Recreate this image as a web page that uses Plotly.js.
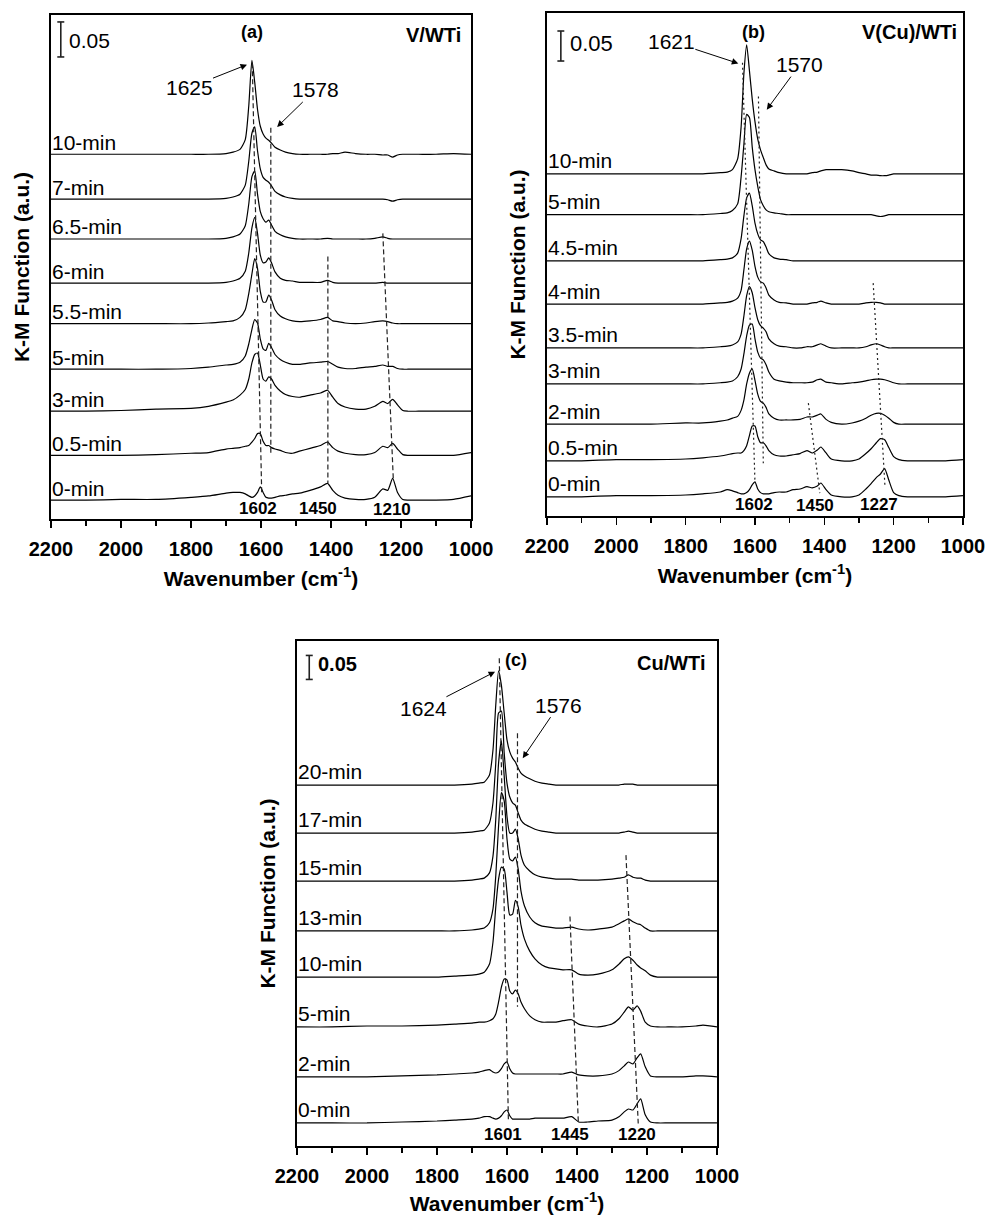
<!DOCTYPE html>
<html><head><meta charset="utf-8">
<script src="https://cdn.plot.ly/plotly-3.0.1.min.js"></script>
<style>html,body{margin:0;padding:0;background:#fff;} #chart{width:990px;height:1215px;}</style>
</head><body><div id="chart"></div>
<script>
// ================= DATA (K-M function, a.u., relative to each spectrum's own baseline) =================
// Panel (a) V/WTi
const wnA = [2200,2100,2000,1900,1800,1750,1700,1680,1660,1645,1635,1626,1618,1610,1602,1594,1586,1578,1570,1560,1545,1530,1510,1490,1460,1430,1410,1395,1380,1360,1330,1300,1275,1252,1238,1224,1210,1195,1180,1150,1100,1050,1000];
const labelsA = ['0-min','0.5-min','3-min','5-min','5.5-min','6-min','6.5-min','7-min','10-min'];
const a0   = [0,0,.001,.001,.004,.006,.010,.011,.011,.009,.006,.004,.006,.011,.019,.011,.004,.003,.003,.004,.006,.007,.009,.010,.014,.019,.024,.014,.007,.003,.001,.001,.004,.016,.014,.031,.011,.001,0,0,0,.001,.006];
const a0_5 = [0,0,0,.001,.003,.004,.009,.010,.011,.013,.014,.019,.024,.031,.031,.020,.014,.014,.011,.009,.007,.004,.003,.006,.010,.014,.019,.011,.006,.003,.001,.001,.004,.013,.011,.017,.009,.001,0,0,0,0,.004];
const a3   = [0,0,.001,.003,.004,.007,.013,.016,.023,.031,.046,.069,.081,.083,.066,.046,.043,.049,.046,.037,.029,.024,.021,.020,.023,.026,.030,.020,.011,.006,.003,.003,.007,.014,.011,.017,.009,.001,0,0,0,0,0];
const a5   = [0,0,0,0,.001,.003,.006,.007,.010,.019,.036,.057,.071,.066,.043,.029,.027,.037,.031,.021,.014,.010,.007,.007,.009,.010,.011,.007,.003,.001,.001,.003,.004,.006,.004,.004,.001,0,0,0,0,0,0];
const a5_5 = [0,0,0,0,0,.001,.003,.004,.009,.020,.043,.071,.093,.079,.046,.031,.031,.041,.034,.020,.011,.007,.004,.003,.004,.006,.009,.004,.003,.001,0,.001,.003,.004,.003,.001,0,0,0,0,0,0,0];
const a6   = [0,0,0,0,0,0,.001,.003,.007,.017,.043,.079,.094,.071,.040,.029,.030,.036,.029,.016,.007,.004,.003,.001,.001,.001,.004,.001,0,0,0,0,0,.001,0,0,0,0,0,0,0,0,0];
const a6_5 = [0,0,0,0,0,0,.001,.003,.007,.019,.050,.089,.097,.064,.039,.029,.024,.027,.020,.011,.006,.003,.001,0,0,0,.001,0,0,0,0,0,.001,.003,.001,0,0,0,0,0,0,0,0];
const a7   = [0,0,0,0,0,0,.001,.003,.007,.020,.054,.094,.103,.069,.043,.031,.027,.024,.019,.011,.006,.003,.001,0,0,0,0,0,0,0,0,0,0,0,-.001,-.003,-.001,0,0,0,0,0,0];
const a10  = [0,0,0,0,0,0,.001,.003,.007,.021,.069,.134,.103,.064,.040,.029,.023,.020,.016,.010,.006,.003,.001,0,0,0,0,.001,.001,.003,.001,0,0,-.001,-.001,-.004,-.001,0,0,0,0,.001,0];

// Panel (b) V(Cu)/WTi
const wnB = [2200,2100,2000,1900,1800,1750,1700,1680,1665,1650,1640,1632,1624,1616,1608,1600,1592,1584,1576,1568,1560,1545,1530,1510,1490,1470,1450,1435,1420,1410,1395,1380,1350,1320,1300,1280,1265,1250,1238,1226,1214,1200,1185,1160,1100,1050,1000];
const labelsB = ['0-min','0.5-min','2-min','3-min','3.5-min','4-min','4.5-min','5-min','10-min'];
const b0   = [0,0,.002,.002,.003,.005,.008,.012,.010,.007,.005,.005,.007,.012,.020,.025,.013,.007,.005,.005,.005,.007,.008,.008,.012,.013,.017,.015,.018,.023,.012,.003,0,0,.003,.013,.022,.032,.038,.047,.028,.007,.002,0,0,0,.002];
const b0_5 = [0,0,.002,.002,.003,.005,.008,.010,.012,.013,.013,.017,.025,.042,.058,.058,.040,.030,.030,.025,.017,.010,.008,.008,.010,.012,.017,.013,.018,.023,.013,.003,0,0,.003,.012,.020,.030,.037,.035,.022,.007,.002,0,0,0,.002];
const b2   = [0,0,0,0,.002,.002,.005,.007,.010,.013,.023,.040,.067,.085,.092,.073,.050,.038,.035,.028,.017,.010,.007,.007,.007,.008,.012,.012,.015,.017,.008,.003,0,.002,.005,.010,.015,.018,.018,.015,.010,.003,0,0,0,0,0];
const b3   = [0,0,0,0,0,0,.002,.003,.005,.012,.025,.050,.080,.098,.100,.075,.053,.043,.040,.032,.020,.008,.005,.003,.002,.002,.002,.003,.007,.008,.003,.002,0,.002,.003,.005,.007,.008,.008,.007,.005,.002,0,0,0,0,0];
const b3_5 = [0,0,0,0,0,0,.002,.003,.005,.010,.023,.053,.087,.102,.092,.067,.047,.037,.033,.027,.015,.007,.003,.002,0,0,.002,.002,.005,.007,.003,0,0,0,0,.002,.005,.007,.005,.002,0,0,0,0,0,0,0];
const b4   = [0,0,0,0,0,0,.002,.003,.005,.010,.023,.057,.092,.105,.090,.063,.045,.037,.035,.027,.015,.007,.003,.002,0,0,0,.002,.003,.005,.002,0,0,0,0,.002,.003,.003,.002,0,0,0,0,0,0,0,0];
const b4_5 = [0,0,0,0,0,0,.002,.003,.005,.013,.037,.075,.105,.113,.092,.063,.045,.035,.032,.023,.012,.005,.003,.002,0,0,0,0,0,0,0,0,0,0,0,0,0,0,0,0,0,0,0,0,0,0,0];
const b5   = [0,0,0,0,0,0,.002,.003,.007,.018,.063,.117,.167,.162,.113,.075,.047,.025,.015,.008,.005,.003,.002,0,0,0,0,0,0,0,0,0,0,0,0,0,0,-.002,-.003,-.002,0,0,0,0,0,0,0];
const b10  = [0,0,0,0,0,0,.002,.003,.007,.025,.078,.167,.215,.172,.125,.087,.058,.040,.027,.015,.008,.005,.002,0,0,0,0,.002,.003,.005,.007,.007,.007,.005,.002,0,-.002,-.002,-.003,-.003,-.002,0,0,0,0,0,0];

// Panel (c) Cu/WTi
const wnC = [2200,2100,2000,1900,1800,1750,1700,1680,1665,1650,1640,1632,1624,1616,1608,1600,1592,1584,1576,1568,1560,1550,1535,1520,1500,1480,1460,1440,1415,1395,1370,1340,1300,1280,1265,1253,1240,1228,1218,1205,1190,1170,1140,1100,1060,1040,1000];
const labelsC = ['0-min','2-min','5-min','10-min','13-min','15-min','17-min','20-min'];
const c0  = [0,0,0,.002,.004,.006,.008,.010,.013,.013,.010,.008,.010,.015,.023,.027,.015,.008,.008,.008,.008,.008,.008,.010,.010,.010,.010,.010,.013,.002,.002,.004,.006,.013,.023,.029,.027,.040,.050,.017,.002,0,0,0,0,0,0];
const c2  = [0,0,0,.002,.004,.006,.008,.010,.013,.015,.010,.008,.010,.017,.027,.031,.017,.008,.006,.006,.006,.006,.006,.006,.006,.006,.006,.006,.010,.004,.002,.002,.006,.013,.023,.031,.027,.040,.048,.021,.002,0,0,0,.002,.002,0];
const c5  = [0,0,.002,.002,.004,.006,.008,.010,.010,.013,.017,.027,.052,.083,.100,.098,.075,.069,.077,.069,.052,.038,.023,.015,.010,.010,.010,.013,.015,.006,.002,0,.006,.017,.031,.042,.035,.044,.033,.010,.002,0,0,0,.002,.004,0];
const c10 = [0,0,0,0,0,.002,.004,.006,.010,.027,.073,.146,.204,.229,.225,.177,.129,.131,.160,.146,.108,.079,.054,.038,.025,.019,.017,.015,.015,.006,.004,.006,.015,.027,.038,.042,.035,.025,.019,.013,.004,0,0,0,0,0,0];
const c13 = [0,0,0,0,0,0,.002,.004,.006,.017,.046,.115,.219,.288,.271,.192,.150,.146,.154,.129,.083,.052,.029,.017,.010,.008,.006,.006,.008,.004,.002,.004,.008,.015,.021,.025,.019,.015,.013,.006,0,0,0,0,0,0,0];
const c15 = [0,0,0,0,0,0,.002,.004,.006,.017,.052,.129,.246,.292,.219,.135,.100,.100,.108,.088,.054,.033,.021,.013,.008,.006,.004,.004,.004,.002,.002,.002,.004,.006,.008,.013,.008,.006,.006,.002,0,0,0,0,0,0,0];
const c17 = [0,0,0,0,0,0,.002,.004,.006,.021,.063,.146,.250,.254,.167,.104,.075,.063,.058,.042,.027,.019,.013,.008,.004,.002,0,0,0,0,0,0,0,0,.002,.004,.002,0,0,0,0,0,0,0,0,0,0];
const c20 = [0,0,0,0,0,0,.002,.004,.006,.021,.073,.167,.238,.208,.150,.094,.069,.056,.048,.035,.025,.019,.013,.008,.004,.002,0,0,0,0,0,0,0,0,.002,.002,.002,0,0,0,0,0,0,0,0,0,0];

const xTicks = [2200,2000,1800,1600,1400,1200,1000];
const xMinor = [2100,1900,1700,1500,1300,1100];

// ================= DISPLAY (stacking offsets, layout) =================
const F = 'Liberation Sans, Arial, sans-serif';
const panels = [
  {wn: wnA, labels: labelsA, series: [a0,a0_5,a3,a5,a5_5,a6,a6_5,a7,a10],
   offsets: [0.027,0.091,0.154,0.214,0.279,0.337,0.400,0.457,0.521], xa:'x', ya:'y', lshift:12},
  {wn: wnB, labels: labelsB, series: [b0,b0_5,b2,b3,b3_5,b4,b4_5,b5,b10],
   offsets: [0.032,0.092,0.153,0.220,0.280,0.353,0.425,0.502,0.570], xa:'x2', ya:'y2', lshift:13},
  {wn: wnC, labels: labelsC, series: [c0,c2,c5,c10,c13,c15,c17,c20],
   offsets: [0.048,0.144,0.248,0.352,0.448,0.552,0.652,0.752], xa:'x3', ya:'y3', lshift:13.5}
];

const traces = [];
const annotations = [];
const shapes = [];
panels.forEach(p => {
  p.series.forEach((s, i) => {
    traces.push({x: p.wn, y: s.map(v => v + p.offsets[i]), xaxis: p.xa, yaxis: p.ya,
      type:'scatter', mode:'lines', line:{color:'#000', width:1.2, shape:'spline', smoothing:0.6},
      hoverinfo:'skip', showlegend:false});
    annotations.push({xref:p.xa, yref:p.ya, x:2200, y:p.offsets[i], yshift:p.lshift, xanchor:'left', yanchor:'middle',
      text:p.labels[i], showarrow:false, font:{family:F, size:21, color:'#000'}, borderpad:0});
  });
});

function txt(xa, ya, x, y, text, size, bold, xanchor){
  annotations.push({xref:xa, yref:ya, x:x, y:y, text:text, showarrow:false, xanchor:xanchor||'center', yanchor:'middle',
    font:{family:F, size:size, color:'#000', weight: bold ? 'bold' : 'normal'}, borderpad:0});
}
function arrow(xa, ya, x, y, ax, ay, text){
  annotations.push({xref:xa, yref:ya, x:x, y:y, ax:ax, ay:ay, text:text, showarrow:true, arrowhead:2, arrowsize:1.3,
    arrowwidth:1, arrowcolor:'#000', font:{family:F, size:21, color:'#000'}, borderpad:0, standoff:0});
}
function seg(xa, ya, x0, y0, x1, y1, dash, w){
  shapes.push({type:'line', xref:xa, yref:ya, x0:x0, y0:y0, x1:x1, y1:y1, line:{color:'#222', width:w||1.2, dash:dash||'solid'}});
}
function scalebar(xa, ya, x, y0, cap){
  seg(xa, ya, x, y0, x, y0 + 0.05, 'solid', 1.6);
  seg(xa, ya, x - cap, y0, x + cap, y0, 'solid', 1.6);
  seg(xa, ya, x - cap, y0 + 0.05, x + cap, y0 + 0.05, 'solid', 1.6);
}

// Panel a decorations
scalebar('x','y', 2172, 0.660, 10);
txt('x','y', 2150, 0.684, '0.05', 21, false, 'left');
txt('x','y', 1626, 0.696, '(a)', 18, true);
txt('x','y', 1027, 0.691, 'V/WTi', 20, true, 'right');
arrow('x','y', 1640, 0.649, -58, 23, '1625');
arrow('x','y', 1554, 0.560, 38, -37, '1578');
seg('x','y', 1625, 0.651, 1598, 0.037, '5px,3px');
seg('x','y', 1572, 0.559, 1572, 0.094, '5px,3px');
seg('x','y', 1409, 0.375, 1409, 0.051, '5px,3px');
seg('x','y', 1252, 0.408, 1222, 0.056, '5px,3px');
txt('x','y', 1609, 0.015, '1602', 17, true);
txt('x','y', 1436, 0.015, '1450', 17, true);
txt('x','y', 1227, 0.014, '1210', 17, true);

// Panel b decorations
scalebar('x2','y2', 2160, 0.758, 10);
txt('x2','y2', 2136, 0.788, '0.05', 22, false, 'left');
txt('x2','y2', 1605, 0.807, '(b)', 18, true);
txt('x2','y2', 1014, 0.806, 'V(Cu)/WTi', 20, true, 'right');
arrow('x2','y2', 1648, 0.754, -67, -22, '1621');
arrow('x2','y2', 1566, 0.677, 33, -45, '1570');
seg('x2','y2', 1636, 0.755, 1600, 0.055, '2px,3px');
seg('x2','y2', 1590, 0.699, 1576, 0.088, '2px,3px');
seg('x2','y2', 1446, 0.188, 1413, 0.038, '2px,3px');
seg('x2','y2', 1259, 0.388, 1225, 0.049, '2px,3px');
txt('x2','y2', 1602, 0.020, '1602', 17, true);
txt('x2','y2', 1427, 0.018, '1450', 17, true);
txt('x2','y2', 1242, 0.020, '1227', 17, true);

// Panel c decorations
scalebar('x3','y3', 2165, 0.972, 10);
txt('x3','y3', 2142, 1.004, '0.05', 20, true, 'left');
txt('x3','y3', 1574, 1.0125, '(c)', 18, true);
txt('x3','y3', 1028, 1.006, 'Cu/WTi', 20, true, 'right');
arrow('x3','y3', 1634, 0.988, -72, 37, '1624');
arrow('x3','y3', 1555, 0.808, 36, -53, '1576');
seg('x3','y3', 1622, 1.016, 1596, 0.054, '5px,3px');
seg('x3','y3', 1570, 0.860, 1570, 0.290, '5px,3px');
seg('x3','y3', 1420, 0.478, 1396, 0.047, '5px,3px');
seg('x3','y3', 1260, 0.606, 1225, 0.047, '5px,3px');
txt('x3','y3', 1612, 0.023, '1601', 17, true);
txt('x3','y3', 1420, 0.023, '1445', 17, true);
txt('x3','y3', 1228, 0.023, '1220', 17, true);

function xax(domain, anchor){
  return {domain:domain, anchor:anchor, range:[2200,1000], tickmode:'array', tickvals:xTicks,
    ticks:'outside', ticklen:7, tickwidth:1.5, tickcolor:'#000', ticklabelstandoff:4,
    showline:true, linecolor:'#000', linewidth:1.6, mirror:true, showgrid:false, zeroline:false,
    tickfont:{family:F, size:20, color:'#000', weight:'bold'},
    minor:{tickvals:xMinor, ticks:'outside', ticklen:5, tickwidth:1.2, tickcolor:'#000', showgrid:false},
    title:{text:'Wavenumber (cm<sup>-1</sup>)', font:{family:F, size:21, color:'#000', weight:'bold'}, standoff:12}};
}
function yax(domain, anchor, top){
  return {domain:domain, anchor:anchor, range:[0, top], showticklabels:false, ticks:'',
    showline:true, linecolor:'#000', linewidth:1.6, mirror:true, showgrid:false, zeroline:false,
    title:{text:'K-M Function (a.u.)', font:{family:F, size:21, color:'#000', weight:'bold'}, standoff:14}};
}

const layout = {
  width:990, height:1215, margin:{l:0, r:0, t:0, b:0}, paper_bgcolor:'#fff', plot_bgcolor:'#fff',
  font:{family:F, color:'#000'}, showlegend:false,
  xaxis: xax([0.0515, 0.4758], 'y'),  yaxis: yax([0.5728, 0.9877], 'x', 0.72),
  xaxis2: xax([0.5525, 0.9727], 'y2'), yaxis2: yax([0.5753, 0.9893], 'x2', 0.838),
  xaxis3: xax([0.3000, 0.7242], 'y3'), yaxis3: yax([0.0568, 0.4724], 'x3', 1.052),
  annotations: annotations, shapes: shapes
};
Plotly.newPlot('chart', traces, layout, {staticPlot:true, displayModeBar:false});
</script>
</body></html>
